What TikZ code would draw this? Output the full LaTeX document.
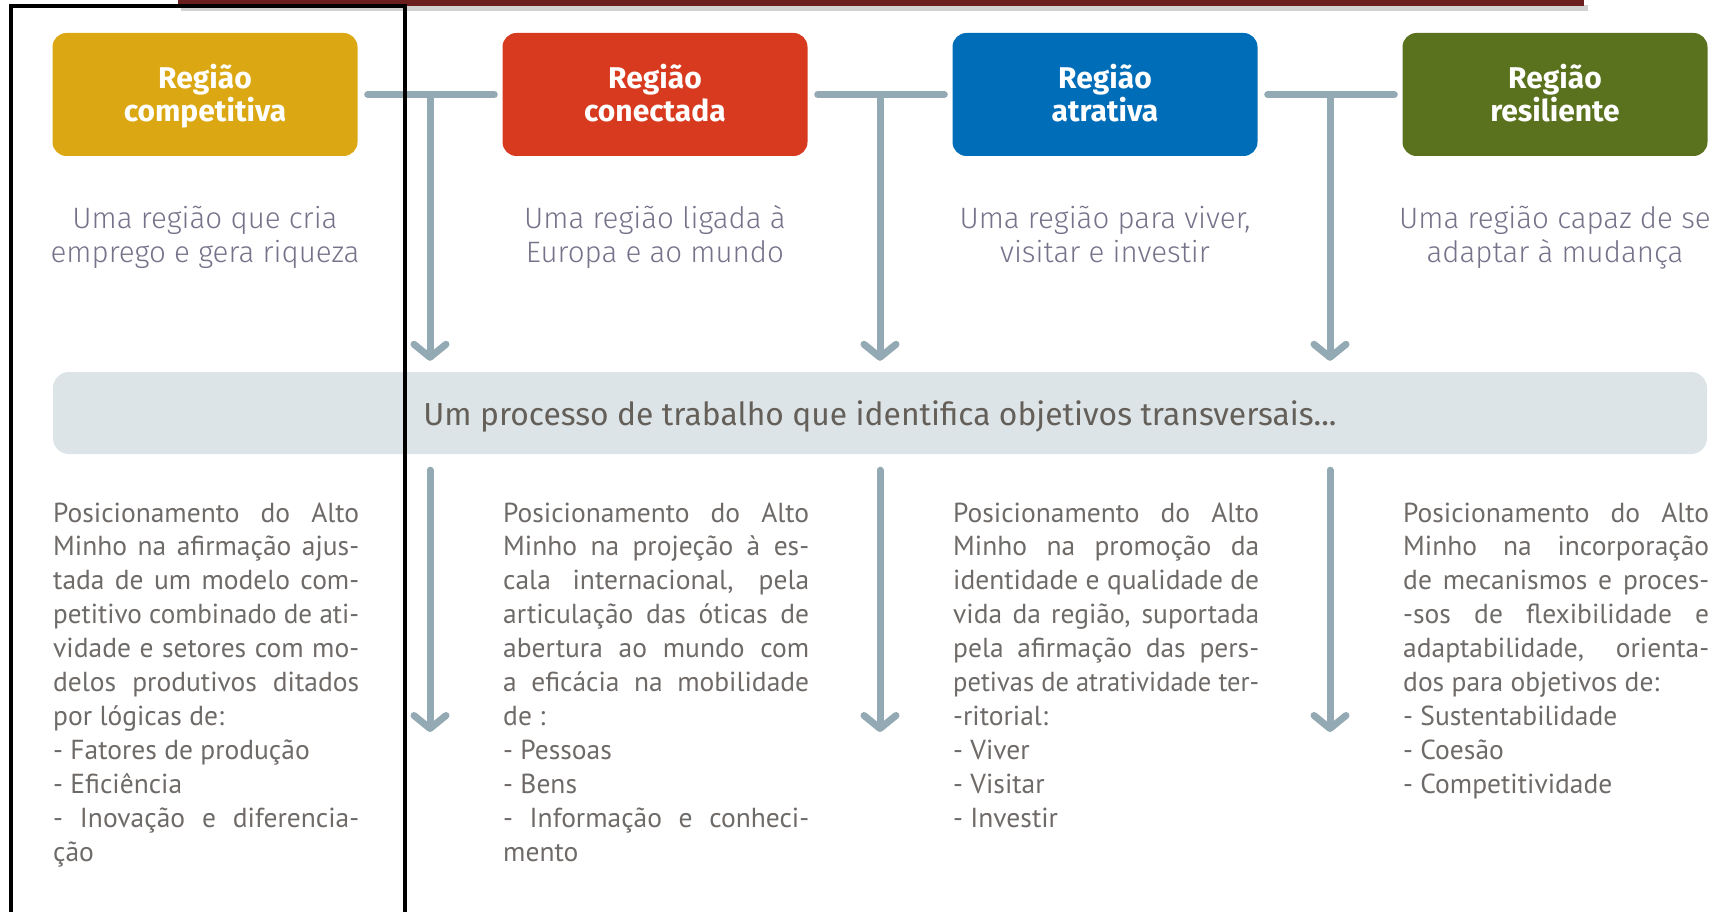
\documentclass[tikz,border=0pt]{standalone}
\usepackage{graphicx}
\usepackage{fontspec}
\setmainfont{PT Sans}
\newfontfamily\titlefont{Fira Sans}
\newfontfamily\sublight{Fira Sans Light}
\usetikzlibrary{arrows.meta,calc}
\definecolor{cYellow}{HTML}{DBA813}
\definecolor{cRed}{HTML}{D83A1F}
\definecolor{cBlue}{HTML}{006DB8}
\definecolor{cGreen}{HTML}{5A711D}
\definecolor{cConn}{HTML}{93A9B3}
\definecolor{cBar}{HTML}{DDE4E8}
\definecolor{cText}{HTML}{6E6A68}
\definecolor{cSub}{HTML}{76728A}
\definecolor{cBarText}{HTML}{645F58}
\definecolor{cTop}{HTML}{6B1E1E}
\newlength\jlw
\newcommand{\jl}[1]{\settowidth{\jlw}{#1}\ifdim\jlw>306pt\relax\resizebox{306pt}{\height}{#1}\else\makebox[306pt][s]{#1}\fi\\}
\newcommand{\bodybox}[1]{\parbox[t]{306pt}{\raggedright\fontsize{27.5}{33.9}\selectfont #1}}
\newcommand{\subbox}[1]{\parbox[t]{360pt}{\centering\sublight\fontsize{29.5}{34}\selectfont #1}}
\begin{document}
\begin{tikzpicture}[x=1pt,y=-1pt,
  regbox/.style={rounded corners=14pt, minimum width=305pt, minimum height=123pt,
    inner sep=0pt, text=white, align=center, text depth=3pt,
    font=\titlefont\bfseries\fontsize{30}{33}\selectfont},
  subtxt/.style={anchor=base, inner sep=0pt, text=cSub},
  bodytxt/.style={anchor=base west, inner sep=0pt, text=cText},
  conn/.style={draw=cConn, line width=7pt, line cap=round},
  connarrow/.style={conn, -{Straight Barb[length=13pt,width=32pt,round]}}
]
\useasboundingbox (0,0) rectangle (1725,912);
\clip (0,0) rectangle (1725,912);

% top dark red bar with shadow
\fill[black!18] (181,5) rectangle (1588,11);
\fill[cTop] (178,-5) rectangle (1584,6);

% bar
\node[fill=cBar, rounded corners=16pt, minimum width=1654pt, minimum height=82pt,
  inner sep=0pt, text depth=0pt, text=cBarText, font=\titlefont\fontsize{31.8}{34}\selectfont]
  (bar) at (880,413) {Um processo de trabalho que identifica objetivos transversais...};

% region boxes
\node[regbox, fill=cYellow] (r1) at (205,94.5) {Região\\competitiva\strut};
\node[regbox, fill=cRed]    (r2) at (655,94.5) {Região\\conectada\strut};
\node[regbox, fill=cBlue]   (r3) at (1105,94.5) {Região\\atrativa\strut};
\node[regbox, fill=cGreen]  (r4) at (1555,94.5) {Região\\resiliente\strut};

% subtitles
\node[subtxt] (s1) at (205,229) {\subbox{Uma região que cria\\emprego e gera riqueza}};
\node[subtxt] (s2) at (655,229) {\subbox{Uma região ligada à\\Europa e ao mundo}};
\node[subtxt] (s3) at (1105,229) {\subbox{Uma região para viver,\\visitar e investir}};
\node[subtxt] (s4) at (1555,229) {\subbox{Uma região capaz de se\\adaptar à mudança}};

% connectors
\coordinate (lowend) at (0,732);
\foreach \a/\b/\i in {r1/r2/1, r2/r3/2, r3/r4/3}{
  \coordinate (m\i) at ($(\a.east)!0.5!(\b.west)$);
  \draw[conn] ([xshift=10pt]\a.east) -- ([xshift=-8pt]\b.west);
  \draw[connarrow] (m\i) -- ([yshift=11pt]m\i |- bar.north);
  \draw[connarrow] ([yshift=-16pt]m\i |- bar.south) -- (m\i |- lowend);
}

% body texts
\node[bodytxt] (t1) at (53,522) {\bodybox{%
\jl{Posicionamento do Alto}
\jl{Minho na afirmação ajus-}
\jl{tada de um modelo com-}
\jl{petitivo combinado de ati-}
\jl{vidade e setores com mo-}
\jl{delos produtivos ditados}
por lógicas de:\\
- Fatores de produção\\
- Eficiência\\
\jl{- Inovação e diferencia-}
ção}};
\node[bodytxt] (t2) at (503,522) {\bodybox{%
\jl{Posicionamento do Alto}
\jl{Minho na projeção à es-}
\jl{cala internacional, pela}
\jl{articulação das óticas de}
\jl{abertura ao mundo com}
\jl{a eficácia na mobilidade}
de :\\
- Pessoas\\
- Bens\\
\jl{- Informação e conheci-}
mento}};
\node[bodytxt] (t3) at (953,522) {\bodybox{%
\jl{Posicionamento do Alto}
\jl{Minho na promoção da}
\jl{identidade e qualidade de}
\jl{vida da região, suportada}
\jl{pela afirmação das pers-}
\jl{petivas de atratividade ter-}
-ritorial:\\
- Viver\\
- Visitar\\
- Investir}};
\node[bodytxt] (t4) at (1403,522) {\bodybox{%
\jl{Posicionamento do Alto}
\jl{Minho na incorporação}
\jl{de mecanismos e proces-}
\jl{-sos de flexibilidade e}
\jl{adaptabilidade, orienta-}
dos para objetivos de:\\
- Sustentabilidade\\
- Coesão\\
- Competitividade}};

% black frame
\draw[black, line width=3.5pt] (11,930) -- (11,6) -- (405,6) -- (405,930);
\end{tikzpicture}
\end{document}
